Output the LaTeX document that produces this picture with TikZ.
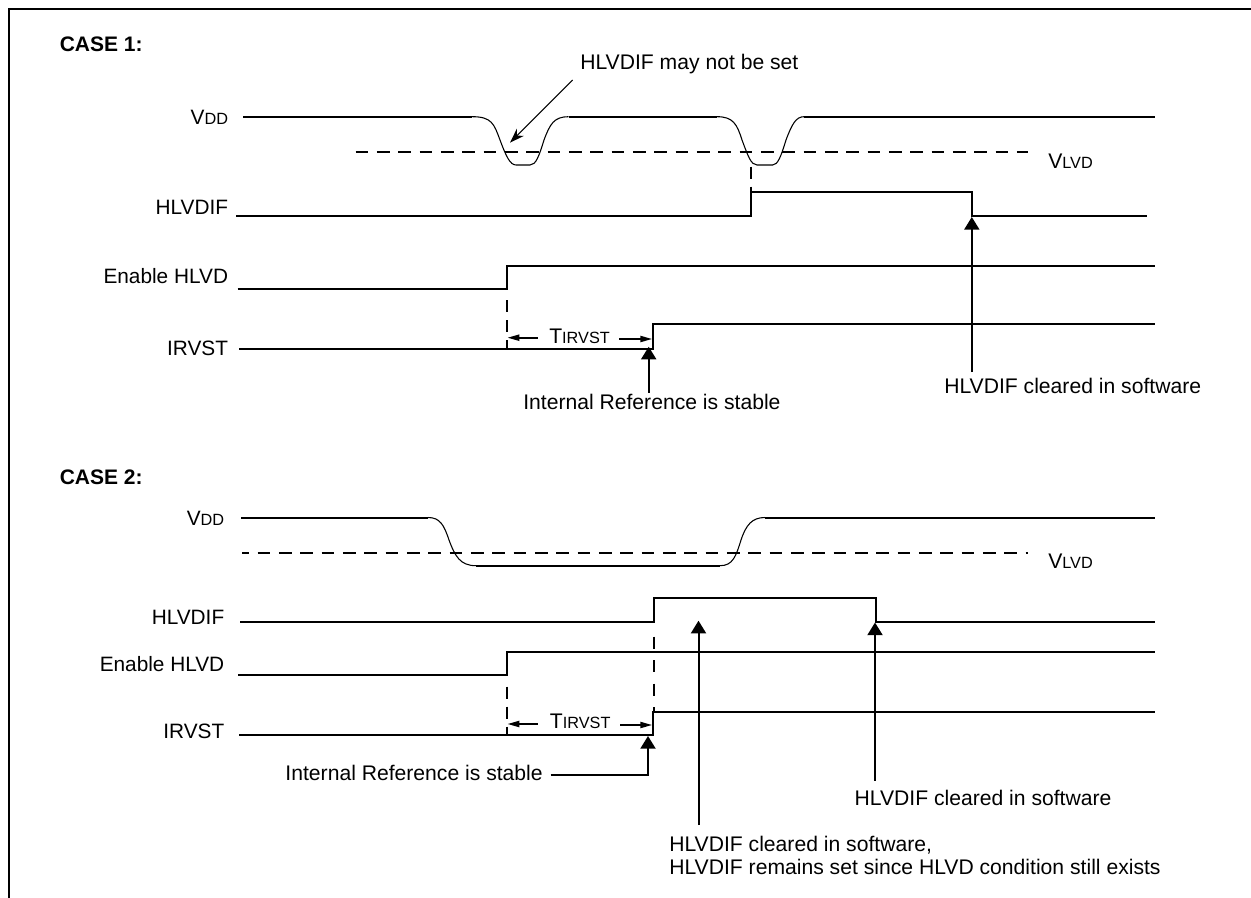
\documentclass[tikz,border=0pt]{standalone}
\usepackage{fontspec}
\setmainfont{Liberation Sans}
\usetikzlibrary{arrows.meta}
\newcommand{\sub}[1]{{\fontsize{12.2}{14}\selectfont #1}}
\tikzset{
  sig/.style={line width=1.5pt,line cap=butt,line join=miter},
  slope/.style={line width=.8pt},
  ref/.style={line width=1.5pt,dash pattern=on 9.5pt off 6.5pt},
  vdash/.style={line width=1.5pt,dash pattern=on 9pt off 6pt},
  lbl/.style={inner sep=0pt,anchor=base east,font=\fontsize{15.6}{19}\selectfont},
  txt/.style={inner sep=0pt,anchor=base west,font=\fontsize{15.85}{19}\selectfont},
  hd/.style={inner sep=0pt,anchor=base west,font=\fontsize{15.75}{19}\selectfont\bfseries},
  bigarrow/.style={line width=1.5pt,-{Triangle[length=9.5pt,width=11.25pt]}},
  dimarrow/.style={line width=1.5pt,-{Triangle[length=9pt,width=4.5pt]}},
  diagarrow/.style={line width=.8pt,-{Stealth[length=11pt,width=7.5pt]}}
}
\begin{document}
\begin{tikzpicture}[x=0.75pt,y=-0.75pt]
\useasboundingbox (0,0) rectangle (1251,898);
% frame
\draw[line width=1.5pt] (9,898) -- (9,9.5) -- (1251,9.5);
% ---- CASE 1
\node[hd] (c1) at (59.5,52) {CASE 1:};
\node[txt] (n1) at (580,70) {HLVDIF may not be set};
\coordinate (n1a) at (572.5,80);
\coordinate (n1b) at (510,142.7);
\draw[diagarrow] (n1a) -- (n1b);
\node[lbl] (av) at (228.3,125) {V\sub{DD}};
\node[lbl] (ah) at (228.3,215) {HLVDIF};
\node[lbl] (ae) at (228.3,284) {Enable HLVD};
\node[lbl] (ai) at (228.3,355) {IRVST};
\node[txt] (avl) at (1048,169) {V\sub{LVD}};
% VDD
\draw[sig] (243,116.7) -- (472,116.7);
\draw[slope] (472,116.7) .. controls (492,116.7) and (494,124) .. (500,140) .. controls (506,156) and (510,165) .. (516,165) -- (530,165) .. controls (536,165) and (539,156) .. (544,140) .. controls (550,124) and (554,116.7) .. (568.5,116.7);
\draw[sig] (568.5,116.7) -- (717,116.7);
\draw[slope] (717,116.7) .. controls (733,116.7) and (737,124) .. (742,140) .. controls (748,156) and (751,165) .. (757,165) -- (772.6,165) .. controls (778,165) and (781,156) .. (786,140) .. controls (792,124) and (796,116.7) .. (804,116.7);
\draw[sig] (804,116.7) -- (1155,116.7);
\draw[ref] (355.6,151.7) -- (1028,151.7);
\draw[vdash] (750.8,166.7) -- (750.8,192);
% HLVDIF
\draw[sig] (236,215.7) -- (750.8,215.7) -- (750.8,191.7) -- (971.8,191.7) -- (971.8,215.7) -- (1146.8,215.7);
% Enable
\draw[sig] (237.7,288.7) -- (506.7,288.7) -- (506.7,266) -- (1155,266);
\draw[vdash] (506.7,300) -- (506.7,349);
% IRVST
\draw[sig] (239.3,349) -- (652.7,349) -- (652.7,324.3) -- (1155,324.3);
\node[txt] (t1) at (549,343) {T\sub{IRVST}};
\coordinate (d1a) at (537.7,337.7);
\coordinate (d1b) at (507.3,337.7);
\coordinate (d1c) at (619,339);
\coordinate (d1d) at (652.3,339);
\draw[dimarrow] (d1a) -- (d1b);
\draw[dimarrow] (d1c) -- (d1d);
\node[txt] (s1) at (523,409.5) {Internal Reference is stable};
\coordinate (s1a) at (648.7,392.7);
\coordinate (s1b) at (648.7,346.7);
\draw[bigarrow] (s1a) -- (s1b);
\node[txt] (w1) at (944,393) {HLVDIF cleared in software};
\coordinate (w1a) at (971.8,372);
\coordinate (w1b) at (971.8,217);
\draw[bigarrow] (w1a) -- (w1b);
% ---- CASE 2
\node[hd] (c2) at (59.5,484) {CASE 2:};
\node[lbl] (bv) at (224.5,525) {V\sub{DD}};
\node[lbl] (bh) at (224.5,624) {HLVDIF};
\node[lbl] (be) at (224.5,671) {Enable HLVD};
\node[lbl] (bi) at (224.5,738) {IRVST};
\node[txt] (bvl) at (1048,568) {V\sub{LVD}};
% VDD
\draw[sig] (241,517.5) -- (428,517.5);
\draw[slope] (428,517.5) .. controls (440,517.5) and (444,525) .. (449,540) .. controls (455,556) and (460,565.7) .. (476,565.7);
\draw[sig] (476,565.7) -- (720,565.7);
\draw[slope] (720,565.7) .. controls (733,565.7) and (736,556) .. (741,540) .. controls (746,525) and (752,517.5) .. (765,517.5);
\draw[sig] (765,517.5) -- (1155,517.5);
\draw[ref,dash phase=4.3pt] (242,552.7) -- (1028,552.7);
% HLVDIF
\draw[sig] (240,621.7) -- (654,621.7) -- (654,597.7) -- (875.5,597.7) -- (875.5,621.7) -- (1155,621.7);
\draw[vdash,dash pattern=on 9pt off 8.6pt] (654,636.7) -- (654,712);
% Enable
\draw[sig] (238,674.7) -- (506.7,674.7) -- (506.7,652) -- (1155,652);
\draw[vdash] (506.7,686.7) -- (506.7,734.7);
% IRVST
\draw[sig] (239,734.7) -- (653.3,734.7) -- (653.3,712) -- (1155,712);
\node[txt] (t2) at (549.7,728.5) {T\sub{IRVST}};
\coordinate (d2a) at (537.7,724);
\coordinate (d2b) at (507.3,724);
\coordinate (d2c) at (620,725);
\coordinate (d2d) at (652.3,725);
\draw[dimarrow] (d2a) -- (d2b);
\draw[dimarrow] (d2c) -- (d2d);
\node[lbl,font=\fontsize{15.85}{19}\selectfont] (s2) at (543,780.5) {Internal Reference is stable};
\coordinate (s2a) at (550.7,775);
\coordinate (s2b) at (648,775);
\coordinate (s2c) at (648,736);
\draw[bigarrow] (s2a) -- (s2b) -- (s2c);
\node[txt] (w2) at (854.3,805) {HLVDIF cleared in software};
\coordinate (w2a) at (875,780.7);
\coordinate (w2b) at (875,622.5);
\draw[bigarrow] (w2a) -- (w2b);
\node[txt] (x2) at (669,851.7) {HLVDIF cleared in software,};
\node[txt] (y2) at (669,874.3) {HLVDIF remains set since HLVD condition still exists};
\coordinate (x2a) at (698.5,825);
\coordinate (x2b) at (698.5,620.7);
\draw[bigarrow] (x2a) -- (x2b);
\end{tikzpicture}
\end{document}
